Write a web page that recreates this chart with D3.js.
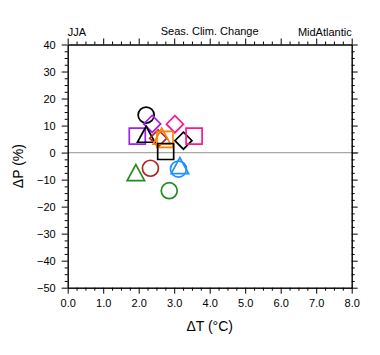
<!DOCTYPE html>
<html><head><meta charset="utf-8">
<script src="https://cdn.jsdelivr.net/npm/d3@7"></script>
<style>body{margin:0;background:#fff}svg{display:block}text{font-family:"Liberation Sans",Arial,sans-serif}</style>
</head><body>
<script>
// data
const dT = [2.21, 2.38, 3.02, 1.96, 2.21, 2.55, 2.65, 2.74, 3.26, 3.56, 2.76, 1.92, 2.33, 3.16, 3.12, 2.86];
const dP = [13.9, 10.6, 10.5, 6.1, 6.6, 5.3, 5.9, 4.9, 4.4, 6.1, 0.4, -7.6, -5.8, -5.0, -6.1, -14.1];
const shapes = ["circle","diamond","diamond","square","triangle","diamond","triangle","square","diamond","square","square","triangle","circle","triangle","circle","circle"];
const colors = ["#000000","#a020f0","#ff1493","#a020f0","#000000","#b22222","#ff8000","#ff8000","#000000","#ff1493","#000000","#228b22","#b22222","#1e90ff","#1e90ff","#228b22"];
const xTicks = [0,1,2,3,4,5,6,7,8];
const yTicks = [40,30,20,10,0,-10,-20,-30,-40,-50];
const titleLeft = "JJA", titleCenter = "Seas. Clim. Change", titleRight = "MidAtlantic";

const W = 380, H = 355;
const L = 67.7, R = 351.7, T = 44.5, B = 287.7;
const svg = d3.select("body").append("svg").attr("width", W).attr("height", H);
const x = d3.scaleLinear().domain([0, 8]).range([L, R]);
const y = d3.scaleLinear().domain([-50, 40]).range([B, T]);

const xMinor = d3.range(0, 8.001, 0.25).filter(v => Math.abs(v - Math.round(v)) > 1e-6);
const yMinor = d3.range(-50, 40.001, 2.5).filter(v => Math.abs(v % 10) > 1e-6);

// zero line
svg.append("line").attr("x1", L).attr("x2", R + 7).attr("y1", y(0)).attr("y2", y(0))
  .attr("stroke", "#a8a8a8").attr("stroke-width", 1.3);

// axes
function axis(gen, tr) {
  const g = svg.append("g").attr("transform", tr).call(gen);
  g.selectAll("path.domain").attr("stroke", "#000").attr("stroke-width", 1);
  g.selectAll("line").attr("stroke", "#000").attr("stroke-width", 1);
  return g;
}
const bx = axis(d3.axisBottom(x).tickValues(xTicks).tickSize(6).tickSizeOuter(0).tickPadding(6).tickFormat(d3.format(".1f")), `translate(0,${B})`);
bx.selectAll("text").attr("font-size", 11).attr("fill", "#000");
axis(d3.axisBottom(x).tickValues(xMinor).tickSize(3).tickSizeOuter(0).tickFormat(""), `translate(0,${B})`);
axis(d3.axisTop(x).tickValues(xTicks).tickSize(6).tickSizeOuter(0).tickFormat(""), `translate(0,${T})`);
axis(d3.axisTop(x).tickValues(xMinor).tickSize(3).tickSizeOuter(0).tickFormat(""), `translate(0,${T})`);
const ly = axis(d3.axisLeft(y).tickValues(yTicks).tickSize(6).tickSizeOuter(0).tickPadding(6).tickFormat(d3.format("d")), `translate(${L},0)`);
ly.selectAll("text").attr("font-size", 11).attr("fill", "#000");
axis(d3.axisLeft(y).tickValues(yMinor).tickSize(3).tickSizeOuter(0).tickFormat(""), `translate(${L},0)`);
axis(d3.axisRight(y).tickValues(yTicks).tickSize(6).tickSizeOuter(0).tickFormat(""), `translate(${R},0)`);
axis(d3.axisRight(y).tickValues(yMinor).tickSize(3).tickSizeOuter(0).tickFormat(""), `translate(${R},0)`);

// markers
function shapePath(s) {
  const p = d3.path();
  if (s === "circle") { p.arc(0, 0, 8, 0, 2 * Math.PI); }
  else if (s === "square") { p.rect(-8, -8, 16, 16); }
  else if (s === "diamond") { p.moveTo(0, -8.5); p.lineTo(8.5, 0); p.lineTo(0, 8.5); p.lineTo(-8.5, 0); p.closePath(); }
  else { const h = 15; p.moveTo(0, -h / 2 - 1); p.lineTo(8.7, h / 2); p.lineTo(-8.7, h / 2); p.closePath(); }
  return p.toString();
}
svg.append("g").selectAll("path").data(dT.map((t, i) => i)).join("path")
  .attr("transform", i => `translate(${x(dT[i])},${y(dP[i])})`)
  .attr("d", i => shapePath(shapes[i]))
  .attr("fill", "none").attr("stroke", i => colors[i]).attr("stroke-width", 1.7);

// titles
svg.append("text").attr("x", L).attr("y", 36).attr("font-size", 11).text(titleLeft);
svg.append("text").attr("x", (L + R) / 2).attr("y", 35).attr("text-anchor", "middle").attr("font-size", 11).text(titleCenter);
svg.append("text").attr("x", R).attr("y", 36).attr("text-anchor", "end").attr("font-size", 11).text(titleRight);
svg.append("text").attr("x", (L + R) / 2).attr("y", 331).attr("text-anchor", "middle").attr("font-size", 14).text("ΔT (°C)");
svg.append("text").attr("transform", `translate(23,${(T + B) / 2}) rotate(-90)`).attr("text-anchor", "middle").attr("font-size", 14).text("ΔP (%)");
</script>
</body></html>
